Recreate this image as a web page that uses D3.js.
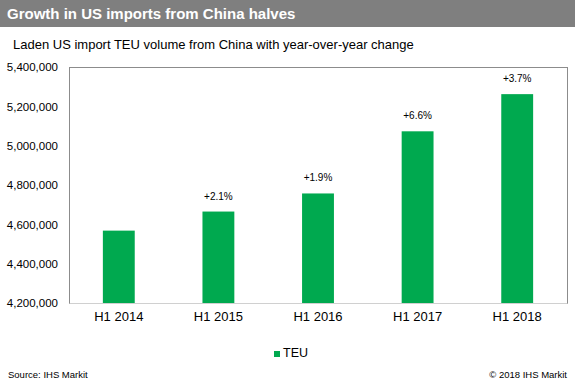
<!DOCTYPE html>
<html>
<head>
<meta charset="utf-8">
<script src="https://cdn.jsdelivr.net/npm/d3@7"></script>
<style>
  body { margin: 0; background: #fff; }
  svg { display: block; font-family: "Liberation Sans", Arial, sans-serif; }
</style>
</head>
<body>
<svg id="chart" width="575" height="386"></svg>
<script>
const categories = ["H1 2014", "H1 2015", "H1 2016", "H1 2017", "H1 2018"];
const teu = [4568000, 4665000, 4757000, 5073000, 5262000];
const changeLabels = ["", "+2.1%", "+1.9%", "+6.6%", "+3.7%"];
const yTicks = [4200000, 4400000, 4600000, 4800000, 5000000, 5200000, 5400000];

const W = 575, H = 386;
const margin = {top: 67, right: 8, bottom: 83, left: 69};
const GREEN = "#00a94f";

const svg = d3.select("#chart");

// title bar
svg.append("rect").attr("x", 0).attr("y", 0).attr("width", W).attr("height", 27).attr("fill", "#7f7f7f");
svg.append("text").attr("x", 7).attr("y", 19)
  .attr("fill", "#fff").attr("font-weight", "bold").attr("font-size", 15)
  .text("Growth in US imports from China halves");
svg.append("text").attr("x", 13).attr("y", 49)
  .attr("fill", "#000").attr("font-size", 13)
  .text("Laden US import TEU volume from China with year-over-year change");

const x = d3.scaleBand()
  .domain(categories)
  .range([margin.left, W - margin.right])
  .paddingInner(0.68)
  .paddingOuter(0.34);

const y = d3.scaleLinear()
  .domain([4200000, 5400000])
  .range([H - margin.bottom, margin.top]);

// plot frame
svg.append("rect")
  .attr("x", margin.left).attr("y", margin.top)
  .attr("width", W - margin.right - margin.left)
  .attr("height", H - margin.bottom - margin.top)
  .attr("fill", "none").attr("stroke", "#8c8c8c").attr("stroke-width", 1)
  .attr("shape-rendering", "crispEdges");

svg.append("g")
  .selectAll("rect")
  .data(teu)
  .join("rect")
  .attr("x", (d, i) => x(categories[i]))
  .attr("y", d => y(d))
  .attr("width", x.bandwidth())
  .attr("height", d => y(4200000) - y(d))
  .attr("fill", GREEN);

// yoy change labels
svg.append("g")
  .selectAll("text")
  .data(teu)
  .join("text")
  .attr("x", (d, i) => x(categories[i]) + x.bandwidth() / 2)
  .attr("y", d => y(d) - 12)
  .attr("text-anchor", "middle")
  .attr("font-size", 10)
  .attr("fill", "#000")
  .text((d, i) => changeLabels[i]);

// y axis
const yAxis = svg.append("g")
  .attr("transform", `translate(${margin.left},0)`)
  .call(d3.axisLeft(y).tickValues(yTicks).tickSize(0).tickPadding(11).tickFormat(d3.format(",")));
yAxis.select(".domain").attr("stroke", "#8c8c8c");
yAxis.selectAll("text").attr("font-size", 11.5).attr("fill", "#000")
  .attr("font-family", "'Liberation Sans', Arial, sans-serif");

// x axis
const xAxis = svg.append("g")
  .attr("transform", `translate(0,${H - margin.bottom})`)
  .call(d3.axisBottom(x).tickSize(0).tickPadding(9));
xAxis.select(".domain").attr("stroke", "#d0d0d0");
xAxis.selectAll("text").attr("font-size", 13).attr("fill", "#000")
  .attr("font-family", "'Liberation Sans', Arial, sans-serif");

// legend
const lg = svg.append("g").attr("transform", "translate(274,351)");
lg.append("rect").attr("width", 6).attr("height", 6).attr("fill", GREEN);
lg.append("text").attr("x", 9).attr("y", 6).attr("font-size", 12.5).attr("fill", "#000").text("TEU");

// footer
svg.append("text").attr("x", 8).attr("y", 378).attr("font-size", 9.5).attr("fill", "#000")
  .text("Source: IHS Markit");
svg.append("text").attr("x", 567).attr("y", 378).attr("text-anchor", "end").attr("font-size", 9.5).attr("fill", "#000")
  .text("\u00a9 2018 IHS Markit");
</script>
</body>
</html>
